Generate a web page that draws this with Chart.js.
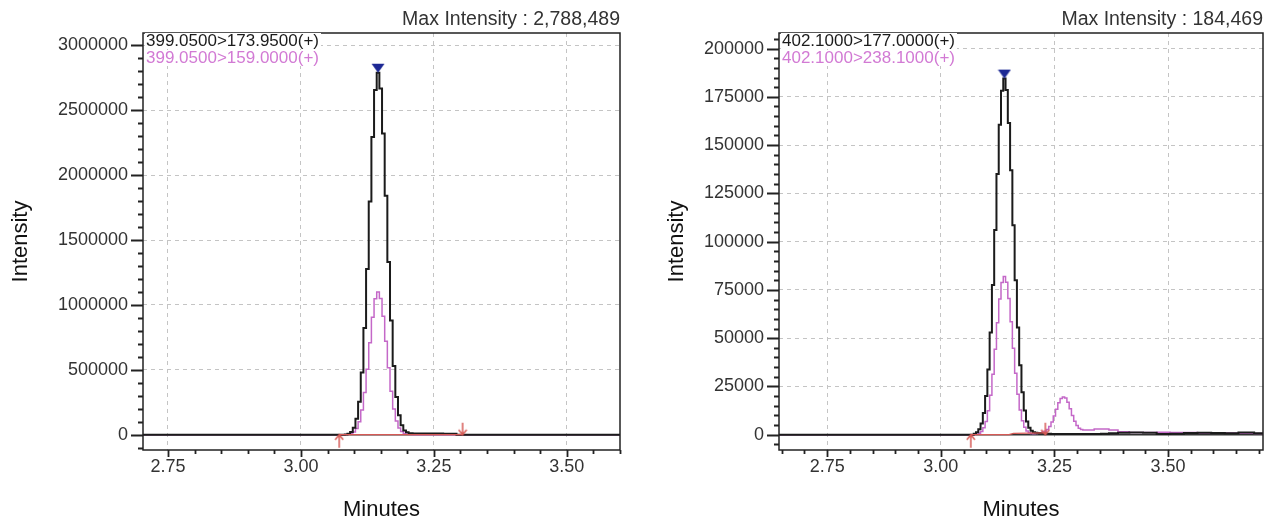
<!DOCTYPE html>
<html>
<head>
<meta charset="utf-8">
<title>MRM chromatograms</title>
<script src="https://cdn.jsdelivr.net/npm/chart.js@4.4.0/dist/chart.umd.min.js"></script>
<style>
  body { margin: 0; background: #fff; width: 1269px; height: 519px; overflow: hidden; position: relative; }
  .panel { position: absolute; top: 0; height: 519px; }
</style>
</head>
<body>
<div class="panel" style="left:0;width:640px"><canvas id="leftChart" width="640" height="519"></canvas></div>
<div class="panel" style="left:640px;width:629px"><canvas id="rightChart" width="629" height="519"></canvas></div>

<script>
// === Two MRM chromatograms (intensity vs minutes) ===

// --- Shared x ticks ---
const xTickValues = [2.75, 3.00, 3.25, 3.50];

// --- Data: left panel ---
const leftTimes = [2.703, 3.080,
  3.085, 3.090, 3.095, 3.100, 3.105, 3.110, 3.115, 3.120, 3.125, 3.130, 3.135, 3.140, 3.145,
  3.150, 3.155, 3.160, 3.165, 3.170, 3.175, 3.180, 3.185, 3.190, 3.195, 3.200, 3.205,
  3.215, 3.230, 3.245, 3.260, 3.275, 3.290, 3.295, 3.600];
const leftBlack = [0, 0,
  2500, 7600, 21000, 53000, 122000, 254000, 480000, 822000, 1276000, 1796000, 2293000, 2655000, 2788489,
  2668000, 2320000, 1840000, 1330000, 880000, 530000, 290000, 150000, 72000, 33000, 18000, 12000,
  10000, 9500, 9000, 8500, 8000, 7500, 0, 0];
const leftPink = [0, 0,
  1000, 3000, 8400, 21000, 48000, 100000, 190000, 325000, 504000, 709000, 905000, 1048000, 1100000,
  1050000, 912000, 720000, 515000, 335000, 198000, 106000, 52000, 24000, 10000, 4000, 1500,
  0, 0, 0, 0, 0, 0, 0, 0];
const leftYTicks = [0, 500000, 1000000, 1500000, 2000000, 2500000, 3000000];
const leftPeak = [3.145, 2788489];
const leftArrowTimes = [3.072, 3.304];
const leftBaseTimes = [3.072, 3.304];
const leftBaseVals = [0, 0];
const leftTraceLabels = ['399.0500>173.9500(+)', '399.0500>159.0000(+)'];
const leftMaxLabel = 'Max Intensity : 2,788,489';

// --- Data: right panel ---
const rightTimes = [2.644, 3.070,
  3.075, 3.080, 3.085, 3.090, 3.095, 3.100, 3.105, 3.110, 3.115, 3.120, 3.125, 3.130, 3.135, 3.140,
  3.145, 3.150, 3.155, 3.160, 3.165, 3.170, 3.175, 3.180, 3.185, 3.190, 3.195, 3.200, 3.205, 3.210, 3.215,
  3.220, 3.225, 3.230, 3.235, 3.240, 3.245, 3.250, 3.255, 3.260, 3.265, 3.270, 3.275, 3.280, 3.285,
  3.290, 3.295, 3.300, 3.305, 3.310, 3.315,
  3.330, 3.345, 3.360, 3.380, 3.400, 3.430, 3.460, 3.490, 3.520, 3.550, 3.580, 3.610, 3.640, 3.670, 3.709];
const rightBlack = [0, 0,
  500, 1300, 2800, 5800, 11200, 20100, 33800, 53000, 77600, 106000, 135100, 160600, 178200, 184469,
  178500, 161500, 137000, 108500, 80000, 55500, 36000, 22000, 12500, 6800, 3600, 2000, 1300, 1000, 900,
  800, 700, 600, 500, 500, 400, 400, 400, 400, 400, 400, 400, 400, 400,
  400, 400, 400, 400, 400, 400,
  400, 400, 500, 800, 1000, 1100, 1000, 400, 500, 900, 1000, 900, 800, 1100, 700];
const rightPink = [0, 0,
  100, 300, 800, 1700, 3600, 6900, 12400, 20500, 31300, 44200, 58000, 70300, 78900, 82000,
  79000, 70500, 58500, 44800, 31800, 21000, 12800, 7200, 3800, 1900, 1000, 600, 500, 600, 900,
  1000, 1400, 1800, 2700, 4300, 6600, 9700, 13200, 16600, 18800, 19500, 19000, 16800, 13500,
  10000, 7000, 4800, 3400, 2700, 2500,
  2400, 3000, 3000, 2400, 1500, 1100, 1200, 1300, 1100, 1200, 800, 700, 900, 700, 600];
const rightYTicks = [0, 25000, 50000, 75000, 100000, 125000, 150000, 175000, 200000];
const rightPeak = [3.140, 184469];
const rightArrowTimes = [3.066, 3.230];
const rightBaseTimes = [3.066, 3.150, 3.160, 3.230];
const rightBaseVals = [0, 0, 700, 900];
const rightTraceLabels = ['402.1000>177.0000(+)', '402.1000>238.1000(+)'];
const rightMaxLabel = 'Max Intensity : 184,469';

// Theme
const COLORS = {
  trace1: '#1b1b1b',
  trace2: '#c468c8',
  label2: '#d27ad4',
  peak: '#1c2894',
  marker: '#d65a55',
  grid: '#c4c4c4',
  text: '#333'
};
const FONT = "'Liberation Sans', Arial, sans-serif";

const toPoints = (xs, ys) => xs.map((t, i) => ({ x: t, y: ys[i] }));
const isMultiple = (v, step) => Math.abs(v / step - Math.round(v / step)) < 1e-6;

// --- Marker images (peak top, start/end arrows) ---
function peakTriangle() {
  const c = document.createElement('canvas');
  c.width = 14; c.height = 20;
  const g = c.getContext('2d');
  g.fillStyle = COLORS.peak;
  g.beginPath(); g.moveTo(0.5, 1); g.lineTo(13.5, 1); g.lineTo(7, 10); g.closePath(); g.fill();
  return c;
}
function arrow(up) {
  const c = document.createElement('canvas');
  c.width = 10; c.height = 28;
  const g = c.getContext('2d');
  g.strokeStyle = COLORS.marker; g.lineWidth = 1.5;
  g.beginPath();
  if (up) {
    g.moveTo(5, 14); g.lineTo(5, 27);
    g.moveTo(1, 19); g.lineTo(5, 14); g.lineTo(9, 19);
  } else {
    g.moveTo(5, 2); g.lineTo(5, 14);
    g.moveTo(1, 9); g.lineTo(5, 14); g.lineTo(9, 9);
  }
  g.stroke();
  return c;
}

// --- Frame, minor ticks and in-plot texts ---
const framePlugin = {
  id: 'frame',
  afterDraw(chart, args, opts) {
    const { ctx, chartArea: a, scales: { x, y } } = chart;
    ctx.save();
    ctx.strokeStyle = '#222';
    ctx.lineWidth = 1.5;
    ctx.strokeRect(a.left, a.top, a.right - a.left, a.bottom - a.top);

    ctx.lineWidth = 1.8;
    ctx.beginPath();
    for (let i = Math.ceil(x.min / opts.xMinor - 1e-6); i * opts.xMinor <= x.max + 1e-9; i++) {
      const v = i * opts.xMinor;
      const px = Math.round(x.getPixelForValue(v)) + 0.5;
      const len = isMultiple(v, opts.xMajor) ? 7 : 4;
      ctx.moveTo(px, a.bottom); ctx.lineTo(px, a.bottom + len);
    }
    for (let i = Math.ceil(y.min / opts.yMinor - 1e-6); i * opts.yMinor <= y.max + 1e-9; i++) {
      const v = i * opts.yMinor;
      const py = Math.round(y.getPixelForValue(v)) + 0.5;
      const len = isMultiple(v, opts.yMajor) ? 12 : 5;
      ctx.moveTo(a.left, py); ctx.lineTo(a.left - len, py);
    }
    ctx.stroke();

    // Max intensity caption
    ctx.font = '19.5px ' + FONT;
    ctx.fillStyle = COLORS.text;
    ctx.textAlign = 'right';
    ctx.textBaseline = 'middle';
    ctx.fillText(opts.maxLabel, a.right, 20);

    // Trace names inside the plot
    ctx.font = '17px ' + FONT;
    ctx.textAlign = 'left';
    const colors = [COLORS.trace1, COLORS.label2];
    opts.traceLabels.forEach((t, i) => {
      const ty = 41 + i * 17;
      const w = ctx.measureText(t).width;
      ctx.fillStyle = '#fff';
      ctx.fillRect(a.left + 2, ty - 8, w + 3, 16);
      ctx.fillStyle = colors[i];
      ctx.fillText(t, a.left + 3, ty);
    });
    ctx.restore();
  }
};

function buildChart(id, cfg) {
  const ctx = document.getElementById(id).getContext('2d');
  return new Chart(ctx, {
    type: 'line',
    data: {
      datasets: [
        {
          label: 'markers',
          data: [
            { x: cfg.peak[0], y: cfg.peak[1] },
            { x: cfg.arrows[0], y: 0 },
            { x: cfg.arrows[1], y: 0 }
          ],
          showLine: false,
          pointStyle: [peakTriangle(), arrow(true), arrow(false)],
          pointRadius: 5,
          clip: false,
          order: 0
        },
        {
          label: 'baseline',
          data: toPoints(cfg.baseTimes, cfg.baseVals),
          borderColor: COLORS.marker,
          borderWidth: 1.3,
          pointRadius: 0,
          order: 1
        },
        {
          label: cfg.traceLabels[0],
          data: toPoints(cfg.times, cfg.black),
          stepped: 'middle',
          borderColor: COLORS.trace1,
          borderWidth: 2,
          pointRadius: 0,
          order: 2
        },
        {
          label: cfg.traceLabels[1],
          data: toPoints(cfg.times, cfg.pink),
          stepped: 'middle',
          borderColor: COLORS.trace2,
          borderWidth: 1.5,
          pointRadius: 0,
          order: 3
        },
        {
          label: 'zero',
          data: [{ x: cfg.xMin, y: 0 }, { x: cfg.xMax, y: 0 }],
          borderColor: '#333',
          borderWidth: 1.5,
          pointRadius: 0,
          order: 4
        }
      ]
    },
    options: {
      responsive: false,
      animation: false,
      events: [],
      layout: { padding: { top: 33, right: cfg.padRight, bottom: 0, left: 0 } },
      plugins: {
        legend: { display: false },
        tooltip: { enabled: false },
        frame: {
          xMinor: 0.05, xMajor: 0.25,
          yMinor: cfg.yMinor, yMajor: cfg.yMajor,
          maxLabel: cfg.maxLabel,
          traceLabels: cfg.traceLabels
        }
      },
      scales: {
        x: {
          type: 'linear',
          min: cfg.xMin,
          max: cfg.xMax,
          afterFit: s => { s.height = 69; },
          afterBuildTicks: s => { s.ticks = xTickValues.map(v => ({ value: v })); },
          ticks: {
            autoSkip: false,
            maxRotation: 0,
            padding: 6,
            color: COLORS.text,
            font: { family: FONT, size: 18 },
            callback: v => v.toFixed(2)
          },
          grid: { drawTicks: false, color: COLORS.grid },
          border: { display: false, dash: [4, 4] },
          title: {
            display: true, text: 'Minutes', color: '#111',
            font: { family: FONT, size: 22, lineHeight: 1 },
            padding: { top: 0, bottom: -2 }
          }
        },
        y: {
          type: 'linear',
          min: cfg.yMin,
          max: cfg.yMax,
          afterFit: s => { s.width = cfg.yAxisWidth; },
          afterBuildTicks: s => { s.ticks = cfg.yTicks.map(v => ({ value: v })); },
          ticks: {
            autoSkip: false,
            padding: 15,
            color: COLORS.text,
            font: { family: FONT, size: 18 },
            callback: v => String(v)
          },
          grid: { drawTicks: false, color: COLORS.grid },
          border: { display: false, dash: [4, 4] },
          title: {
            display: true, text: 'Intensity', color: '#111',
            font: { family: FONT, size: 22 },
            padding: { top: cfg.titlePad, bottom: 0 }
          }
        }
      }
    },
    plugins: [framePlugin]
  });
}

buildChart('leftChart', {
  times: leftTimes, black: leftBlack, pink: leftPink,
  peak: leftPeak, arrows: leftArrowTimes,
  baseTimes: leftBaseTimes, baseVals: leftBaseVals,
  traceLabels: leftTraceLabels, maxLabel: leftMaxLabel,
  yTicks: leftYTicks,
  xMin: 2.703, xMax: 3.600,
  yMin: -117800, yMax: 3094700, yMajor: 500000, yMinor: 100000,
  yAxisWidth: 143, padRight: 20, titlePad: 8
});

buildChart('rightChart', {
  times: rightTimes, black: rightBlack, pink: rightPink,
  peak: rightPeak, arrows: rightArrowTimes,
  baseTimes: rightBaseTimes, baseVals: rightBaseVals,
  traceLabels: rightTraceLabels, maxLabel: rightMaxLabel,
  yTicks: rightYTicks,
  xMin: 2.644, xMax: 3.709,
  yMin: -7920, yMax: 208070, yMajor: 25000, yMinor: 5000,
  yAxisWidth: 139, padRight: 3, titlePad: 24
});
</script>
</body>
</html>
